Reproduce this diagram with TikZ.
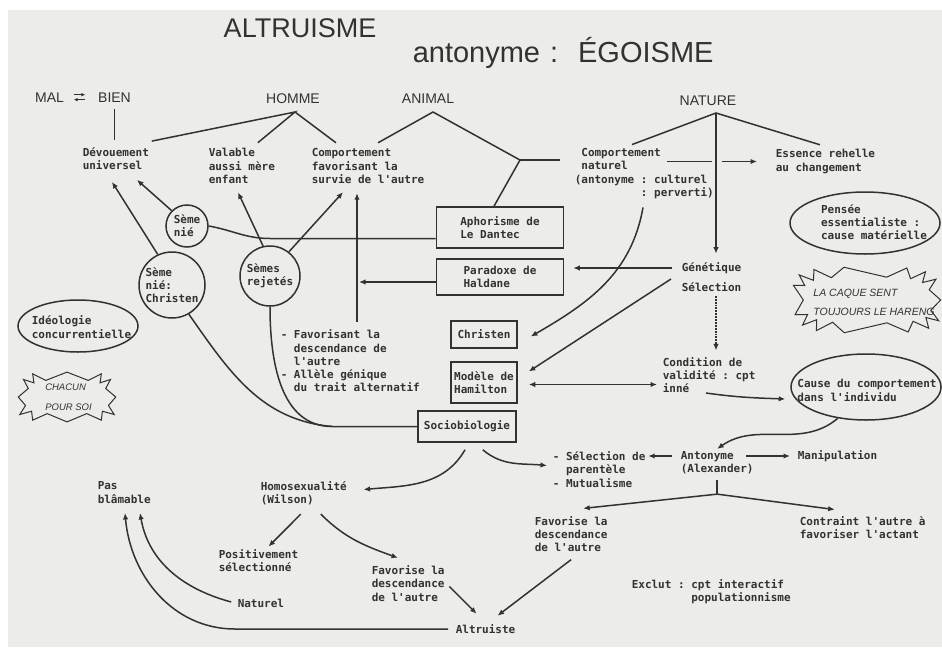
\documentclass[tikz,border=0pt]{standalone}
\usepackage{fontspec}
\setmainfont{Liberation Sans}
\setmonofont{DejaVu Sans Mono}
\usetikzlibrary{arrows.meta,shapes.geometric,calc}
\definecolor{ink}{RGB}{50,50,48}
\definecolor{paper}{RGB}{236,236,233}

\begin{document}
\begin{tikzpicture}[x=1pt, y=-1pt, color=ink, line width=1.5pt,
    >={Latex[length=6.5pt,width=5.5pt]},
    txt/.style={font=\ttfamily\bfseries\fontsize{11}{13.3}\selectfont, align=left, inner sep=2pt, anchor=west},
    head/.style={font=\fontsize{14}{16}\selectfont, inner sep=2pt, anchor=base},
    boite/.style={txt, draw, anchor=center, line width=1.6pt},
    rond/.style={txt, draw, circle, anchor=center, inner sep=0pt},
    bulle/.style={draw, ellipse, inner sep=0pt},
    cri/.style={font=\itshape\fontsize{10.5}{19}\selectfont, align=left, inner sep=0pt},
    pointille/.style={->, densely dotted, line width=1.9pt}]
    \useasboundingbox (0,0) rectangle (942,653);
    \fill[white] (0,0) rectangle (942,653);
    \fill[paper] (8,10) rectangle (942,647);

    \node[font=\fontsize{27}{30}\selectfont, inner sep=0pt] (ttl) at (300,28) {ALTRUISME};
    \node[font=\fontsize{29}{32}\selectfont, inner sep=0pt, anchor=base west] (egoi) at (412,62) {antonyme\hspace{10pt}:\hspace{20pt}ÉGOISME};

    \node[head] (mal) at (49.5,102) {MAL};
    \node[head] (bien) at (114.5,102) {BIEN};
    \node[head] (homme) at (293,103) {HOMME};
    \node[head] (animal) at (428,103) {ANIMAL};
    \node[head] (nature) at (708,105) {NATURE};
    \draw[-{Latex[length=4pt,width=3.5pt]}, line width=1.1pt, shorten <=7pt, shorten >=10pt] ([yshift=2.5pt]mal.east) -- ([yshift=2.5pt]bien.west);
    \draw[{Latex[length=4pt,width=3.5pt]}-, line width=1.1pt, shorten <=7pt, shorten >=10pt] ([yshift=-2.5pt]mal.east) -- ([yshift=-2.5pt]bien.west);

    \coordinate (hA) at (295,112);
    \coordinate (aA) at (433,112);
    \coordinate (aJ) at (520,160);
    \coordinate (nA) at (716,113);

    \node[txt] (devo) at (80,159) {Dévouement\\universel};
    \node[txt] (vala) at (206,166) {Valable\\aussi mère\\enfant};
    \node[txt] (cfav) at (309,166) {Comportement\\favorisant la\\survie de l'autre};
    \node[txt] (cnat) at (572,173.5) {\hphantom{(}Comportement\\\hphantom{(}naturel\\(antonyme : culturel\\\hphantom{(antonyme }: perverti)};
    \node[txt] (ess) at (773,161.5) {Essence rehelle\\au changement};

    \node[bulle, minimum width=150pt, minimum height=62pt] (pens) at (865,223) {};
    \node[txt, anchor=center] (pensT) at (874,222) {Pensée\\essentialiste :\\cause matérielle};
    \draw[line width=1pt] plot[samples=31, domain=0:360, variable=\t]
        ({867+(69+5*cos(15*\t)+2*sin(2*\t))*cos(\t)/sqrt(abs(cos(\t))+0.01)}, {300+(28+5*cos(15*\t))*sin(\t)/sqrt(abs(sin(\t))+0.01)}) -- cycle;
    \node[cri] (caque) at (874,302.5) {LA CAQUE SENT\\TOUJOURS LE HARENG};

    \node[bulle, minimum width=120pt, minimum height=52pt] (ideo) at (78,326) {};
    \node[txt, anchor=center] (ideoT) at (81.5,327) {Idéologie\\concurrentielle};
    \draw[line width=1pt] plot[samples=25, domain=0:360, variable=\t]
        ({67+(45+4*cos(12*\t)+2*sin(3*\t))*cos(\t)/sqrt(abs(cos(\t))+0.01)}, {397+(21+4*cos(12*\t))*sin(\t)/sqrt(abs(sin(\t))+0.01)}) -- cycle;
    \node[cri, font=\itshape\fontsize{9.5}{20}\selectfont] (chacun) at (68.5,397) {CHACUN\\POUR SOI};

    \node[rond, minimum size=42pt] (snie) at (187,226) {Sème\\nié};
    \node[rond, minimum size=66pt] (snch) at (172,285) {Sème\\nié:\\Christen};
    \node[rond, minimum size=60pt] (srej) at (270,276) {Sèmes\\rejetés};

    \node[boite, minimum width=127pt, minimum height=41pt] (aph) at (500,227.5) {Aphorisme de\\Le Dantec};
    \node[boite, minimum width=127pt, minimum height=36pt] (hal) at (500,277) {Paradoxe de\\Haldane};
    \node[boite, minimum width=66pt, minimum height=27pt] (chr) at (484,334.5) {Christen};
    \node[boite, minimum width=66pt, minimum height=41pt] (ham) at (484,382.5) {Modèle de\\Hamilton};
    \node[boite, minimum width=98pt, minimum height=31pt] (soc) at (467,426.5) {Sociobiologie};

    \node[txt] (fdesc) at (278,361) {-~Favorisant la\\\hphantom{-~}descendance de\\\hphantom{-~}l'autre\\-~Allèle génique\\\hphantom{-~}du trait alternatif};
    \node[txt] (gen) at (679,268) {Génétique};
    \node[txt] (sel) at (679,287) {Sélection};
    \node[txt] (cond) at (660,375) {Condition de\\validité : cpt\\inné};
    \node[bulle, minimum width=150pt, minimum height=66pt] (cause) at (866,387) {};
    \node[txt, anchor=center] (causeT) at (867,390.5) {Cause du comportement\\dans l'individu};

    \node[txt] (anto) at (678,463) {Antonyme\\(Alexander)};
    \node[txt] (mani) at (795,456) {Manipulation};
    \node[txt] (selp) at (550,469.5) {-~Sélection de\\\hphantom{-~}parentèle\\-~Mutualisme};
    \node[txt] (fav2) at (532,534) {Favorise la\\descendance\\de l'autre};
    \node[txt] (contr) at (797,527.5) {Contraint l'autre à\\favoriser l'actant};
    \node[txt] (excl) at (629,591.5) {Exclut : cpt interactif\\\hphantom{Exclut : }populationnisme};
    \node[txt] (altr) at (453,629) {Altruiste};
    \node[txt] (homo) at (258,493.5) {Homosexualité\\(Wilson)};
    \node[txt] (posi) at (216,560.5) {Positivement\\sélectionné};
    \node[txt] (fav1) at (369,583.5) {Favorise la\\descendance\\de l'autre};
    \node[txt] (natu) at (235,603) {Naturel};
    \node[txt] (pasb) at (95,492.5) {Pas\\blâmable};

    \draw[shorten <=4pt, shorten >=5pt] (bien.south) -- (bien.south |- devo.north);
    \draw ([yshift=4pt]devo.north east) -- (hA) -- ([xshift=16pt,yshift=3pt]vala.north);
    \draw (hA) -- ([xshift=27pt,yshift=3pt]cfav.north west);
    \draw ([xshift=69pt,yshift=3pt]cfav.north west) -- (aA) -- (aJ);
    \draw[shorten >=12pt] (aJ) -- (aJ -| cnat.west);
    \draw (aJ) -- ([xshift=-6pt]aph.north);
    \draw ([xshift=60pt,yshift=1pt]cnat.north west) -- (nA) -- ([xshift=47pt,yshift=2pt]ess.north west);
    \coordinate (essLine) at ($(cnat.west |- ess.west)+(95,0)$);
    \draw[shorten >=4.5pt] (essLine) -- (essLine -| nA);
    \draw[->, shorten <=5.5pt, shorten >=16pt] (essLine -| nA) -- (ess.west |- essLine);
    \draw[->, shorten >=6pt] (nA) -- (nA |- gen.north);

    \draw[->] (snie.135) -- ([xshift=57pt,yshift=-7pt]devo.south west);
    \draw[->] (snch.115) -- ([xshift=32pt,yshift=-9pt]devo.south west);
    \draw[->] (srej.103) -- ([xshift=32pt,yshift=-6pt]vala.south west);
    \draw[->] (srej.52) -- ([xshift=34pt,yshift=-6pt]cfav.south west);
    \coordinate (favUp) at ([xshift=79pt,yshift=5pt]fdesc.north west);
    \draw[->] (favUp) -- ([xshift=48pt,yshift=-7pt]cfav.south west);
    \coordinate (dantecIn) at ([yshift=-11pt]aph.west);
    \draw (snie.east) to[out=-10,in=180] (dantecIn -| srej.north) -- (dantecIn);
    \coordinate (haldOut) at ([yshift=-5pt]hal.west);
    \draw[->, shorten >=2pt] (haldOut) -- (haldOut -| favUp);
    \coordinate (socIn) at ([xshift=-85pt]soc.west);
    \draw (srej.south) to[out=-90,in=180] (socIn) -- (soc.west);
    \draw (snch.-60) to[out=-55,in=175] (socIn);

    \draw[->, shorten <=7pt, shorten >=9pt] (gen.west) -- (gen.west -| hal.east);
    \draw[->] ([xshift=-8pt,yshift=8pt]sel.west) -- ([xshift=11pt,yshift=11pt]ham.east);
    \draw[->] ([xshift=71pt,yshift=-6pt]cnat.south west) to[out=-100,in=30] ([xshift=13pt,yshift=-2pt]chr.east);
    \draw[pointille, shorten <=1.5pt, shorten >=4pt] (sel.south -| nA) -- (cond.north -| nA);
    \draw[<->, shorten <=11pt, shorten >=3pt] ([yshift=-2pt]ham.east) -- ([yshift=-2pt]ham.east -| cond.west);
    \draw[->] ([xshift=46pt,yshift=-18pt]cond.west) to[out=-8,in=178] ([xshift=-5pt,yshift=-12pt]cause.west);
    \draw[->] (cause.228) to[out=-140,in=35] (anto.north);

    \draw[->, shorten <=-10pt, shorten >=5pt] (anto.east |- mani.west) -- (mani.west);
    \draw[->, shorten <=6pt] (anto.west |- mani.west) -- (selp.east |- mani.west);
    \coordinate (fork) at ([yshift=-17pt]anto.south);
    \draw[shorten <=3pt] (anto.south) -- (fork);
    \draw[->] (fork) -- ([xshift=12pt,yshift=5pt]fav2.north);
    \draw[->] (fork) -- ([xshift=-28pt,yshift=4pt]contr.north);
    \draw[->] ([yshift=-5pt]fav2.south) -- ([xshift=12pt,yshift=6pt]altr.north);

    \draw[->] ([xshift=-2pt,yshift=-7pt]soc.south) to[out=-120,in=5] ([xshift=14pt,yshift=4pt]homo.east);
    \draw[->] ([xshift=-34pt,yshift=-7pt]soc.south east) to[out=-40,in=175] ([xshift=-3pt,yshift=4pt]selp.west);
    \draw[->] ([xshift=-3pt,yshift=-6pt]homo.south) -- ([xshift=10pt]posi.north);
    \draw[->] ([xshift=17pt,yshift=-6pt]homo.south) to[out=-45,in=160] ([xshift=29pt,yshift=5pt]fav1.north west);
    \draw[->] ([xshift=2pt,yshift=-3pt]fav1.east) -- ([xshift=-9pt,yshift=8pt]altr.north);
    \draw[->, shorten <=5pt] (altr.west) -- (altr.west -| natu.west) to[out=180,in=-85] ([xshift=30pt,yshift=-7pt]pasb.south west);
    \draw[->, shorten <=4pt] (natu.west) to[out=165,in=-80] ([xshift=45pt,yshift=-7pt]pasb.south west);
\end{tikzpicture}
\end{document}
